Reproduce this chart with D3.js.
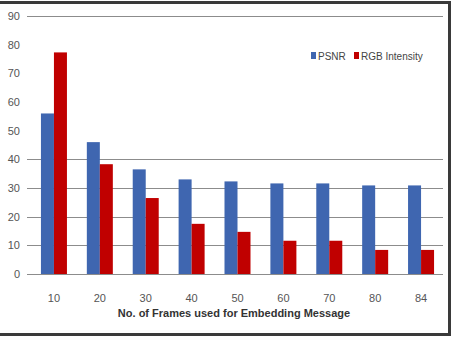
<!DOCTYPE html>
<meta charset="utf-8">
<style>
body { margin: 0; background: #fff; }
text { font-family: "Liberation Sans", Arial, sans-serif; }
</style>
<svg width="452" height="340"></svg>
<script src="https://cdn.jsdelivr.net/npm/d3@7"></script>
<script>

var frames = ["10", "20", "30", "40", "50", "60", "70", "80", "84"];
var psnr = [56, 46, 36.5, 33, 32.3, 31.6, 31.6, 30.9, 30.9];
var rgbIntensity = [77.3, 38.3, 26.5, 17.5, 14.7, 11.6, 11.6, 8.4, 8.4];
var seriesNames = ["PSNR", "RGB Intensity"];
var yTicks = [0, 10, 20, 30, 40, 50, 60, 70, 80, 90];
var gridTicks = [0, 10, 20, 30, 40, 90];

var colors = ["#3F66B0", "#C00000"];

var svg = d3.select("svg");

var rows = frames.map(function(f, i) {
  return { frame: f, values: [psnr[i], rgbIntensity[i]] };
});

var x = d3.scaleBand()
    .domain(frames)
    .range([31, 444])
    .paddingInner(0)
    .paddingOuter(0);

var xInner = d3.scaleBand()
    .domain([0, 1])
    .range([x.bandwidth() / 2 - 13, x.bandwidth() / 2 + 13]);

var y = d3.scaleLinear()
    .domain([0, 90])
    .range([274, 16]);

// gridlines (the 50-80 lines are hidden in the original)
svg.append("g")
    .selectAll("line")
    .data(gridTicks)
    .enter().append("line")
      .attr("x1", 27)
      .attr("x2", 443)
      .attr("y1", function(d) { return Math.round(y(d)) + 0.5; })
      .attr("y2", function(d) { return Math.round(y(d)) + 0.5; })
      .attr("stroke", "#8c8c8c")
      .attr("stroke-width", 1.2);

// y axis labels
var yAxis = d3.axisLeft(y).tickValues(yTicks).tickSize(0).tickPadding(0);
var yg = svg.append("g")
    .attr("transform", "translate(20,0)")
    .call(yAxis);
yg.select(".domain").remove();
yg.selectAll("text")
    .attr("fill", "#555")
    .style("font-size", "11px");

// x axis labels
var xAxis = d3.axisBottom(x).tickSize(0).tickPadding(0);
var xg = svg.append("g")
    .attr("transform", "translate(0,294)")
    .call(xAxis);
xg.select(".domain").remove();
xg.selectAll("text")
    .attr("fill", "#555")
    .style("font-size", "11px");

// bars
var groups = svg.append("g")
    .selectAll("g")
    .data(rows)
    .enter().append("g")
      .attr("transform", function(d) { return "translate(" + x(d.frame) + ",0)"; });

groups.selectAll("rect")
    .data(function(d) { return d.values; })
    .enter().append("rect")
      .attr("x", function(d, i) { return xInner(i); })
      .attr("width", xInner.bandwidth())
      .attr("y", function(d) { return y(d); })
      .attr("height", function(d) { return y(0) - y(d); })
      .attr("fill", function(d, i) { return colors[i]; });

// axis title
svg.append("text")
    .attr("x", 234)
    .attr("y", 317)
    .attr("text-anchor", "middle")
    .style("font-size", "11px")
    .style("font-weight", "bold")
    .attr("fill", "#333")
    .text("No. of Frames used for Embedding Message");

// legend
var legendX = [311, 354];
var legend = svg.append("g")
    .selectAll("g")
    .data(seriesNames)
    .enter().append("g")
      .attr("transform", function(d, i) { return "translate(" + legendX[i] + ",52)"; });

legend.append("rect")
    .attr("width", 5)
    .attr("height", 7)
    .attr("fill", function(d, i) { return colors[i]; });

legend.append("text")
    .attr("x", 7)
    .attr("y", 7.5)
    .attr("fill", "#444")
    .style("font-size", "10px")
    .text(function(d) { return d; });

// frame border (top, right, bottom)
svg.append("path")
    .attr("d", "M0,2.5H449.5V334.5H0")
    .attr("fill", "none")
    .attr("stroke", "#3a3a3a")
    .attr("stroke-width", 3);

</script>
